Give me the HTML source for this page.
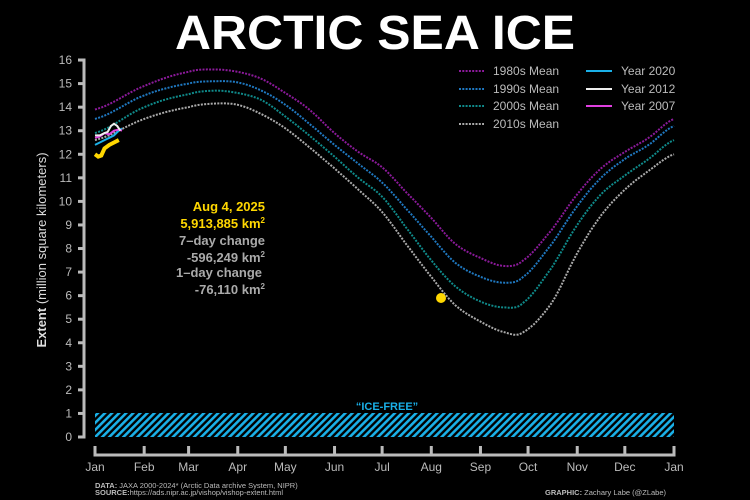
<!DOCTYPE html>
<html><head><meta charset="utf-8"><style>
html,body{margin:0;padding:0;background:#000;}
svg{display:block;font-family:"Liberation Sans",sans-serif;}
</style></head><body>
<svg id="s" width="750" height="500" viewBox="0 0 750 500" xmlns="http://www.w3.org/2000/svg">
<defs>
<pattern id="h" width="5" height="5" patternUnits="userSpaceOnUse" patternTransform="rotate(45)">
<rect width="5" height="5" fill="#000"/><rect width="2.6" height="5" fill="#1ab0e8"/>
</pattern>
</defs>
<rect width="750" height="500" fill="#000"/>
<text x="375" y="49" text-anchor="middle" fill="#fff" font-size="48" font-weight="bold" textLength="400" lengthAdjust="spacingAndGlyphs">ARCTIC SEA ICE</text>
<g id="axes" stroke="#bbb" stroke-width="3" fill="none"></g>
<g id="yl" fill="#bbb" font-size="12" text-anchor="end"></g>
<g id="xl" fill="#bbb" font-size="12" text-anchor="middle"></g>
<text transform="translate(46,250) rotate(-90)" text-anchor="middle" fill="#ddd" font-size="13"><tspan font-weight="bold">Extent</tspan> (million square kilometers)</text>
<rect x="95" y="413" width="579" height="24" fill="url(#h)"/>
<text x="387" y="410" text-anchor="middle" fill="#1ab0e8" font-size="11" font-weight="bold">“ICE-FREE”</text>
<g id="curves" fill="none" stroke-width="2"></g>
<circle cx="441" cy="298" r="5" fill="#ffd700"/>
<g font-size="13" font-weight="bold" text-anchor="end">
<text x="265" y="211" fill="#ffd700">Aug 4, 2025</text>
<text x="265" y="228" fill="#ffd700">5,913,885 km<tspan font-size="8" dy="-5">2</tspan></text>
<text x="265" y="245" fill="#aaa">7–day change</text>
<text x="265" y="262" fill="#aaa">-596,249 km<tspan font-size="8" dy="-5">2</tspan></text>
<text x="262" y="277" fill="#aaa">1–day change</text>
<text x="265" y="294" fill="#aaa">-76,110 km<tspan font-size="8" dy="-5">2</tspan></text>
</g>
<g font-size="12" fill="#bbb">
<line x1="459" y1="71" x2="484" y2="71" stroke="#8b1a9a" stroke-width="2" stroke-dasharray="2,1.3"/><text x="493" y="75">1980s Mean</text>
<line x1="459" y1="89" x2="484" y2="89" stroke="#1f78c0" stroke-width="2" stroke-dasharray="2,1.3"/><text x="493" y="93">1990s Mean</text>
<line x1="459" y1="106" x2="484" y2="106" stroke="#0f8a8a" stroke-width="2" stroke-dasharray="2,1.3"/><text x="493" y="110">2000s Mean</text>
<line x1="459" y1="124" x2="484" y2="124" stroke="#aaa" stroke-width="2" stroke-dasharray="2,1.3"/><text x="493" y="128">2010s Mean</text>
<line x1="586" y1="71" x2="612" y2="71" stroke="#1ab0e8" stroke-width="2"/><text x="621" y="75">Year 2020</text>
<line x1="586" y1="89" x2="612" y2="89" stroke="#eee" stroke-width="2"/><text x="621" y="93">Year 2012</text>
<line x1="586" y1="106" x2="612" y2="106" stroke="#e040e0" stroke-width="2"/><text x="621" y="110">Year 2007</text>
</g>
<g font-size="7.5" fill="#bbb">
<text x="95" y="488"><tspan font-weight="bold">DATA:</tspan> JAXA 2000-2024* (Arctic Data archive System, NIPR)</text>
<text x="95" y="495"><tspan font-weight="bold">SOURCE:</tspan>https://ads.nipr.ac.jp/vishop/vishop-extent.html</text>
<text x="666" y="495" text-anchor="end"><tspan font-weight="bold">GRAPHIC:</tspan> Zachary Labe (@ZLabe)</text>
</g>
</svg>
<script>
var NS="http://www.w3.org/2000/svg";
function X(d){return 95+d*579/365;}
function Y(v){return 437-v*23.56;}
function el(p,t,a){var e=document.createElementNS(NS,t);for(var k in a)e.setAttribute(k,a[k]);p.appendChild(e);return e;}
var ax=document.getElementById('axes');
el(ax,'path',{d:'M78 60 H84 V437 H78'});
for(var v=0;v<=16;v++){el(ax,'line',{x1:78,x2:84,y1:Y(v),y2:Y(v)});
var t=el(document.getElementById('yl'),'text',{x:72,y:Y(v)+4});t.textContent=v;}
el(ax,'path',{d:'M95 446 V455 H674 V446'});
var m=['Jan','Feb','Mar','Apr','May','Jun','Jul','Aug','Sep','Oct','Nov','Dec','Jan'];
var md=[0,31,59,90,120,151,181,212,243,273,304,334,365];
for(var i=0;i<13;i++){el(ax,'line',{x1:X(md[i]),x2:X(md[i]),y1:446,y2:455});
var t=el(document.getElementById('xl'),'text',{x:X(md[i]),y:471});t.textContent=m[i];}
var D=[0,31,59,75,90,105,120,135,151,166,181,196,212,227,243,258,270,288,304,319,334,349,365];
var C=[
['#8b1a9a',[13.9,14.9,15.5,15.6,15.5,15.2,14.6,13.9,12.9,12.1,11.45,10.4,9.3,8.2,7.6,7.26,7.5,8.8,10.3,11.4,12.1,12.7,13.5]],
['#1f78c0',[13.5,14.5,15.0,15.1,15.05,14.7,14.1,13.3,12.4,11.6,10.8,9.7,8.5,7.4,6.8,6.55,6.8,8.2,9.8,11.0,11.8,12.4,13.2]],
['#0f8a8a',[12.9,14.0,14.55,14.7,14.6,14.3,13.6,12.8,11.9,11.0,10.2,8.9,7.5,6.4,5.75,5.5,5.7,7.2,9.0,10.3,11.1,11.8,12.6]],
['#aaa',[12.6,13.5,14.0,14.15,14.1,13.7,13.1,12.3,11.4,10.5,9.55,8.2,6.8,5.6,4.9,4.45,4.45,5.7,7.8,9.4,10.5,11.3,12.0]]];
var g=document.getElementById('curves');
C.forEach(function(c){var p=[];
for(var i=0;i<D.length-1;i++){for(var k=0;k<8;k++){var f=k/8;
var v0=c[1][i],v1=c[1][i+1],vm=c[1][Math.max(0,i-1)],vp=c[1][Math.min(D.length-1,i+2)];
var f2=f*f,f3=f2*f;var v=0.5*((2*v0)+(-vm+v1)*f+(2*vm-5*v0+4*v1-vp)*f2+(-vm+3*v0-3*v1+vp)*f3);
var d=D[i]+(D[i+1]-D[i])*f;p.push(X(d).toFixed(1)+','+Y(v).toFixed(1));}}
p.push(X(365)+','+Y(c[1][D.length-1]).toFixed(1));
el(g,'polyline',{points:p.join(' '),stroke:c[0],'stroke-dasharray':'2,1.3'});});
function ln(col,pts,w){el(g,'polyline',{points:pts.map(function(q){return X(q[0]).toFixed(1)+','+Y(q[1]).toFixed(1)}).join(' '),stroke:col,'stroke-width':w||2});}
ln('#1ab0e8',[[0,12.4],[3,12.5],[6,12.6],[9,12.7],[12,12.8],[15,13.0],[17,13.1]]);
ln('#e040e0',[[0,12.7],[3,12.75],[6,12.9],[9,12.85],[12,13.0],[15,13.05],[17,13.0]]);
ln('#eee',[[0,12.8],[3,12.8],[6,12.9],[8,12.95],[10,13.2],[12,13.3],[14,13.2],[16,13.0]]);
ln('#ffd700',[[0,12.0],[2,11.9],[4,11.95],[6,12.25],[9,12.4],[12,12.5],[15,12.6]],4);
</script>
</body></html>
